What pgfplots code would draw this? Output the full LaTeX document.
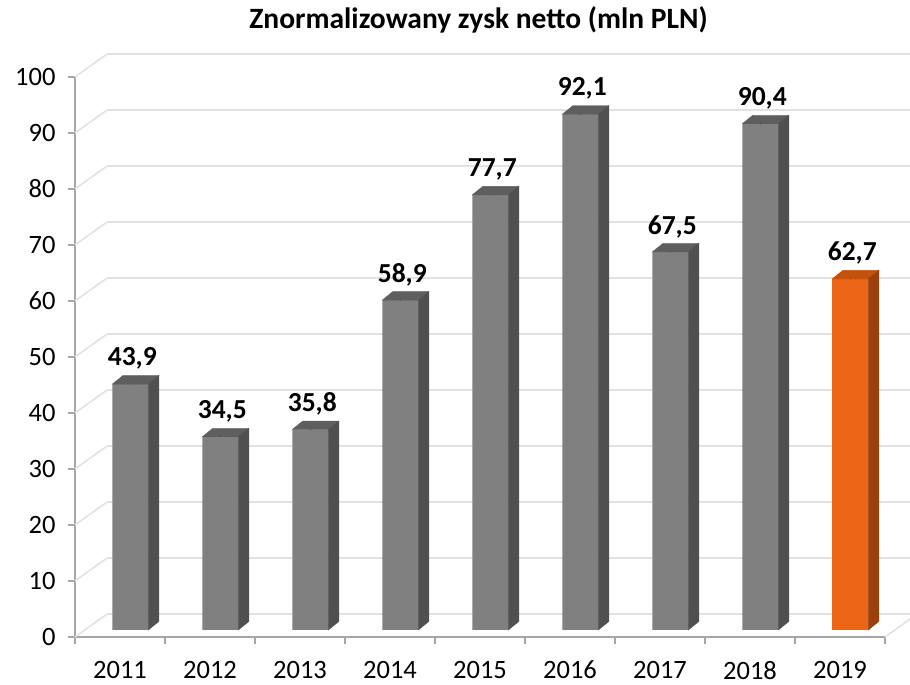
\documentclass[border=0pt]{standalone}
\usepackage{fontspec}
\setmainfont{Carlito}
\usepackage{pgfplots}
\pgfplotsset{compat=1.18}

\definecolor{barfront}{HTML}{808080}
\definecolor{barside}{HTML}{505050}
\definecolor{bartop}{HTML}{5E5E5E}
\definecolor{orfront}{HTML}{EC6514}
\definecolor{orside}{HTML}{9B3F0B}
\definecolor{ortop}{HTML}{C4520F}
\definecolor{wallgrid}{HTML}{E2E2E2}
\definecolor{axisgray}{HTML}{A6A6A6}

\pgfplotsset{
  % top and side faces of the 3d columns, origin = top of the front face centre
  prism/.style n args={2}{
    scatter, only marks, mark=*, mark size=0.01pt,
    point meta=rawy,
    visualization depends on={rawy \as \barv},
    scatter/@pre marker code/.code={
      \fill[#2] (-18pt,0pt) -- (18pt,0pt) -- (28.5pt,8.5pt) -- (-7.5pt,8.5pt) -- cycle;
      \fill[#1] (18pt,0pt) -- (28.5pt,8.5pt) -- (28.5pt,{8.5pt-5.6pt*\barv})
                -- (18pt,{-5.6pt*\barv}) -- cycle;
      \begin{scope}[draw=none, fill=none]
    },
    scatter/@post marker code/.code={\end{scope}},
  },
  front/.style={
    ybar, bar width=36pt, bar shift=0pt,
    fill=#1, draw=none,
    point meta=rawy,
    nodes near coords={\pgfmathprintnumber[fixed,fixed zerofill,precision=1,use comma,assume math mode=true]{\pgfplotspointmeta}},
    every node near coord/.append style={anchor=center, xshift=2pt, yshift=25.5pt,
      font=\fontsize{27.5}{33}\selectfont\bfseries, text=black},
  },
}

\pgfplotstableread{
x    v
0.5  43.9
1.5  34.5
2.5  35.8
3.5  58.9
4.5  77.7
5.5  92.1
6.5  67.5
7.5  90.4
}\greybars
\pgfplotstableread{
x    v
8.5  62.7
}\orangebar

\begin{document}
\begin{tikzpicture}

\node[anchor=base, font=\fontsize{29.5}{35}\selectfont\bfseries] at (478.5pt,656.5pt) {Znormalizowany zysk netto (mln PLN)};

% frame: axes, ticks and the back wall
\begin{axis}[
    at={(75pt,48pt)}, anchor=south west,
    scale only axis, width=810pt, height=560pt,
    xmin=0, xmax=9, ymin=0, ymax=100,
    clip=false,
    axis x line*=bottom, axis y line*=left,
    axis line style={draw=axisgray, line width=1.6pt},
    xtick={0.5,1.5,...,8.5},
    xticklabels={2011,2012,2013,2014,2015,2016,2017,2018,2019},
    minor xtick={0,1,...,9},
    ytick={0,10,...,100},
    minor ytick={0,10,...,100},
    major tick length=0pt,
    minor tick length=7pt,
    tick align=outside,
    minor tick style={draw=axisgray, line width=1.4pt},
    major tick style={draw=none},
    tick label style={font=\fontsize{26.5}{32}\selectfont},
    xticklabel style={yshift=-20.5pt},
    yticklabel style={xshift=-16pt},
    /pgf/number format/assume math mode=true,
]
\foreach \v in {0,10,...,100}{
  \edef\tmp{\noexpand\draw[wallgrid, line width=1.6pt]
    (axis cs:0,\v) -- ++(32pt,23pt) -- ++(810pt,0pt);}\tmp
}
\draw[wallgrid, line width=1.6pt] (axis cs:9,0) -- ++(32pt,23pt);
\end{axis}

% columns: same scales, base lifted 7pt, front faces shifted 10.3pt right
\begin{axis}[
    at={(85.3pt,55pt)}, anchor=south west,
    scale only axis, width=810pt, height=560pt,
    xmin=0, xmax=9, ymin=0, ymax=100,
    clip=false,
    hide axis,
]
\addplot[front=barfront] table[x=x, y=v] {\greybars};
\addplot[prism={barside}{bartop}] table[x=x, y=v] {\greybars};
\addplot[front=orfront] table[x=x, y=v] {\orangebar};
\addplot[prism={orside}{ortop}] table[x=x, y=v] {\orangebar};
\end{axis}

\pgfresetboundingbox
\path[use as bounding box] (0,0) rectangle (910pt,685pt);
\end{tikzpicture}
\end{document}
